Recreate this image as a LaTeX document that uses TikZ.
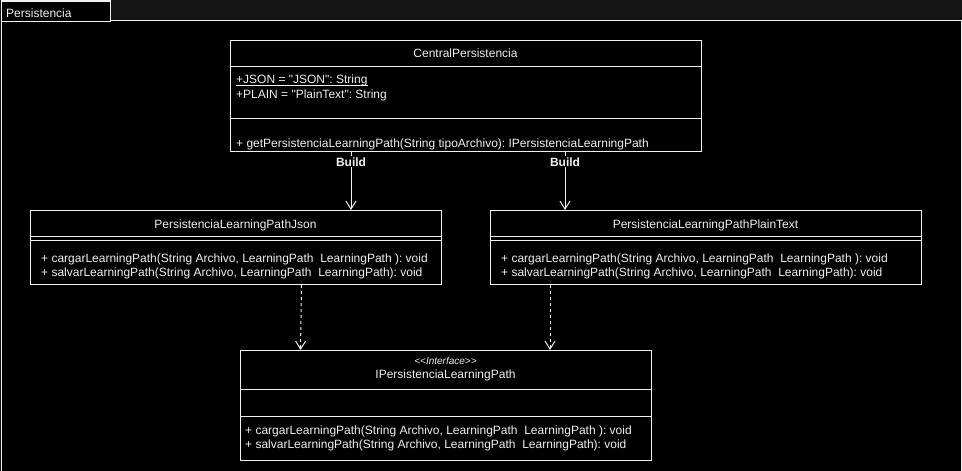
\documentclass[tikz,border=0pt]{standalone}
\usepackage{fontspec}
\setmainfont{Liberation Sans}[Ligatures=TeXOff]
\usetikzlibrary{arrows.meta}
\definecolor{bgout}{HTML}{141414}
\definecolor{fg}{HTML}{F0F0F0}
\frenchspacing
\begin{document}
\begin{tikzpicture}[x=1pt,y=-1pt,
  every node/.style={text=fg, font=\fontsize{12}{14}\selectfont, inner sep=0pt},
  umlbox/.style={draw=fg, line width=1pt, fill=black, anchor=north west, minimum height=#1},
  sepline/.style={draw=fg, line width=1pt},
  txt/.style={anchor=base west},
  ttl/.style={anchor=base},
  buildarrow/.style={draw=fg, line width=1pt, -{Straight Barb[length=8pt,width=10pt,line width=1pt]}},
  realarrow/.style={draw=fg, line width=1pt, dash pattern=on 3pt off 3pt, -{Straight Barb[length=8pt,width=10pt,line width=1pt]}},
  lbl/.style={fill=black, inner sep=1pt, font=\fontsize{12}{14}\selectfont\bfseries}
]
\useasboundingbox (0,0) rectangle (962,471);
\fill[bgout] (0,0) rectangle (962,471);
% package frame
\node[draw=fg, line width=1pt, fill=black, anchor=north west, minimum width=960pt, minimum height=470pt] (frame) at (1,20) {};
\node[draw=fg, line width=1pt, fill=black, anchor=north west, minimum width=109pt, minimum height=20pt] (tab) at (1,0.5) {};
\node[txt] (tabtxt) at (6,17) {Persistencia};

% CentralPersistencia
\node[umlbox=111pt, minimum width=471pt] (cp) at (230,40) {};
\draw[sepline] (cp.west |- 0,66.5) -- (cp.east |- 0,66.5);
\draw[sepline] (cp.west |- 0,118.5) -- (cp.east |- 0,118.5);
\node[ttl] (cpt) at (465.5,57) {CentralPersistencia};
\node[txt] (cpa1) at (236,83) {+JSON = "JSON": String};
\draw[fg, line width=0.9pt] ([yshift=-2.5pt]cpa1.base west) -- ([yshift=-2.5pt]cpa1.base east);
\node[txt] (cpa2) at (236,98) {+PLAIN = "PlainText": String};
\node[txt] (cpm1) at (236,147) {+ getPersistenciaLearningPath(String tipoArchivo): IPersistenciaLearningPath};

% PersistenciaLearningPathJson
\node[umlbox=74pt, minimum width=411pt] (json) at (30,210) {};
\draw[sepline] (json.west |- 0,236) -- (json.east |- 0,236);
\draw[sepline] (json.west |- 0,240) -- (json.east |- 0,240);
\node[ttl] (jsont) at (235.5,228) {PersistenciaLearningPathJson};
\node[txt] (jsonm1) at (41,262) {+ cargarLearningPath(String Archivo, LearningPath~~LearningPath~): void};
\node[txt] (jsonm2) at (41,276) {+ salvarLearningPath(String Archivo, LearningPath~~LearningPath): void};

% PersistenciaLearningPathPlainText
\node[umlbox=74pt, minimum width=431pt] (plain) at (490,210) {};
\draw[sepline] (plain.west |- 0,236) -- (plain.east |- 0,236);
\draw[sepline] (plain.west |- 0,240) -- (plain.east |- 0,240);
\node[ttl] (plaint) at (705.5,228) {PersistenciaLearningPathPlainText};
\node[txt] (plainm1) at (501,262) {+ cargarLearningPath(String Archivo, LearningPath~~LearningPath~): void};
\node[txt] (plainm2) at (501,276) {+ salvarLearningPath(String Archivo, LearningPath~~LearningPath): void};

% IPersistenciaLearningPath
\node[umlbox=110pt, minimum width=411pt] (iface) at (240,350) {};
\draw[sepline] (iface.west |- 0,389) -- (iface.east |- 0,389);
\draw[sepline] (iface.west |- 0,416.5) -- (iface.east |- 0,416.5);
\node[ttl, font=\fontsize{10}{11}\selectfont\itshape] (ifs) at (445.5,364) {<<Interface>>};
\node[ttl] (ift) at (445.5,378) {IPersistenciaLearningPath};
\node[txt] (ifm1) at (245,434) {+ cargarLearningPath(String Archivo, LearningPath~~LearningPath~): void};
\node[txt] (ifm2) at (245,448) {+ salvarLearningPath(String Archivo, LearningPath~~LearningPath): void};

% connectors
\draw[buildarrow] (cp.south -| 351,0) -- node[lbl, pos=0.17] (b1) {Build} (json.north -| 351,0);
\draw[buildarrow] (cp.south -| 565,0) -- node[lbl, pos=0.17] (b2) {Build} (plain.north -| 565,0);
\draw[realarrow] (json.south -| 301.5,0) -- (iface.north -| 300.5,0);
\draw[realarrow] (plain.south -| 550,0) -- (iface.north -| 550,0);
\end{tikzpicture}
\end{document}
